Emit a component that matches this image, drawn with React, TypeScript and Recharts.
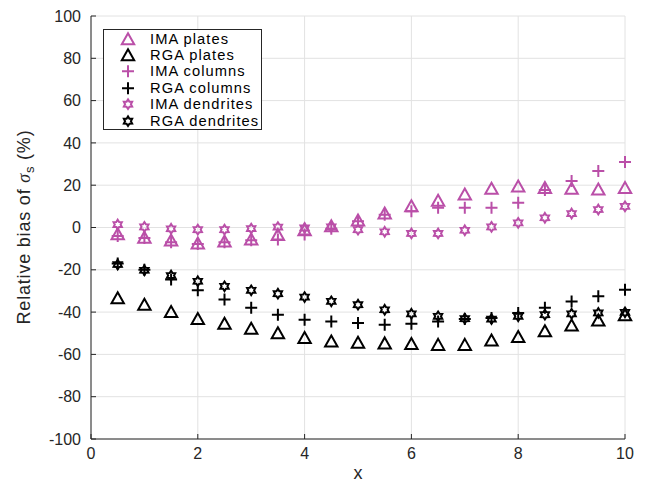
import React from 'react';
import { ScatterChart, Scatter, XAxis, YAxis, CartesianGrid, Legend } from 'recharts';

// sample positions along x
const xValues = [0.5, 1, 1.5, 2, 2.5, 3, 3.5, 4, 4.5, 5, 5.5, 6, 6.5, 7, 7.5, 8, 8.5, 9, 9.5, 10];

// relative bias (%) per habit and method
const imaPlates = [-3.2, -4.8, -6.2, -7.6, -6.6, -5.7, -3.5, -1.3, 0.6, 3.3, 6.6, 10, 12.6, 15.6, 18.3, 19.4, 18.7, 18.3, 18, 18.7];
const rgaPlates = [-33.5, -36.5, -40, -43.3, -45.5, -47.9, -50, -52.3, -53.9, -54.5, -54.8, -55.1, -55.5, -55.5, -53.4, -51.8, -49.1, -46.3, -44, -41.5];
const imaColumns = [-4, -5, -7, -7.8, -7, -6, -5.7, -3.3, -0.6, 3, 6, 7.7, 9.3, 9.3, 9.3, 11.7, 17.7, 22, 26.7, 31];
const rgaColumns = [-17, -20, -24.6, -29.7, -34, -38, -41.2, -43.6, -44.4, -45.2, -46, -45.5, -44.4, -43.3, -42.8, -40.4, -38, -35, -32.5, -29.4];
const imaDendrites = [1.4, 0.3, -0.6, -1, -1, -0.5, 0.2, -0.2, 0.3, -1, -2, -2.8, -2.8, -1.3, 0.3, 2.2, 4.6, 6.6, 8.5, 10];
const rgaDendrites = [-17.5, -20.2, -22.7, -25.4, -27.8, -29.7, -31.3, -32.9, -34.9, -36.5, -38.9, -40.8, -42, -43.1, -43.3, -42, -41.2, -40.8, -40.4, -40.1];

const seriesNames = ['IMA plates', 'RGA plates', 'IMA columns', 'RGA columns', 'IMA dendrites', 'RGA dendrites'];

const xTicks = [0, 2, 4, 6, 8, 10];
const yTicks = [-100, -80, -60, -40, -20, 0, 20, 40, 60, 80, 100];

const MAGENTA = '#BA4FA8';
const BLACK = '#000000';
const AXIS = '#262626';
const FONT = '"Liberation Sans", Arial, Helvetica, sans-serif';

type MarkProps = { cx?: number; cy?: number; color: string };

const Triangle = ({ cx = 0, cy = 0, color }: MarkProps) => (
  <path
    d={`M${cx},${cy - 6} L${cx + 6.2},${cy + 5} L${cx - 6.2},${cy + 5} Z`}
    fill="none"
    stroke={color}
    strokeWidth={2}
  />
);

const Plus = ({ cx = 0, cy = 0, color }: MarkProps) => (
  <path
    d={`M${cx - 6},${cy} H${cx + 6} M${cx},${cy - 6} V${cy + 6}`}
    fill="none"
    stroke={color}
    strokeWidth={2}
  />
);

// six-pointed star, drawn small so it reads like a gear
const Hexagram = ({ cx = 0, cy = 0, color }: MarkProps) => {
  const pts: string[] = [];
  for (let i = 0; i < 12; i++) {
    const r = i % 2 === 0 ? 4.8 : 2.9;
    const a = (Math.PI / 6) * i - Math.PI / 2;
    pts.push(`${(cx + r * Math.cos(a)).toFixed(2)},${(cy + r * Math.sin(a)).toFixed(2)}`);
  }
  return <polygon points={pts.join(' ')} fill="none" stroke={color} strokeWidth={2} />;
};

const marks = [Triangle, Triangle, Plus, Plus, Hexagram, Hexagram];
const colors = [MAGENTA, BLACK, MAGENTA, BLACK, MAGENTA, BLACK];
const seriesValues = [imaPlates, rgaPlates, imaColumns, rgaColumns, imaDendrites, rgaDendrites];

const toPoints = (ys: number[]) => xValues.map((x, i) => ({ x, y: ys[i] }));

const ROW = 16.45;

const LegendBox = () => (
  <div
    style={{
      boxSizing: 'border-box',
      width: 159,
      height: 101,
      border: `1px solid ${AXIS}`,
      background: '#fff',
      paddingTop: 0.5,
      fontFamily: FONT,
      fontSize: 14.7,
      letterSpacing: 1.05,
      color: '#000',
    }}
  >
    {seriesNames.map((name, i) => {
      const Mark = marks[i];
      return (
        <div key={name} style={{ position: 'relative', height: ROW, lineHeight: `${ROW}px` }}>
          <svg width={16} height={16} style={{ position: 'absolute', left: 16, top: 0 }}>
            <Mark cx={8} cy={8.2} color={colors[i]} />
          </svg>
          <span style={{ position: 'absolute', left: 46, top: 0, whiteSpace: 'nowrap' }}>{name}</span>
        </div>
      );
    })}
  </div>
);

const YTitle = ({ viewBox }: any) => {
  const x = viewBox.x + 13.5;
  const y = 219;
  return (
    <text
      x={x}
      y={y}
      transform={`rotate(-90, ${x}, ${y})`}
      textAnchor="middle"
      fill={AXIS}
      fontFamily={FONT}
      fontSize={18}
      letterSpacing={0.8}
    >
      Relative bias of{' '}
      <tspan fontStyle="italic" fontFamily='"Liberation Serif", "DejaVu Serif", serif'>σ</tspan>
      <tspan fontSize={13} dy={4}>s</tspan>
      <tspan dy={-4}> (%)</tspan>
    </text>
  );
};

const XTitle = ({ viewBox }: any) => (
  <text
    x={viewBox.x + viewBox.width / 2}
    y={viewBox.y + 40}
    textAnchor="middle"
    fill={AXIS}
    fontFamily={FONT}
    fontSize={18}
  >
    x
  </text>
);

const tickStyle = { fill: AXIS, fontSize: 16, fontFamily: FONT };

export default function App() {
  return (
    <ScatterChart width={630} height={475} margin={{ top: 8, right: 13, left: 8, bottom: 4 }}>
      <CartesianGrid stroke="#E2E2E2" />
      <XAxis
        dataKey="x"
        type="number"
        domain={[0, 10]}
        ticks={xTicks}
        interval={0}
        height={40}
        tickSize={-5}
        tickMargin={14}
        stroke={AXIS}
        tick={tickStyle}
        label={<XTitle />}
      />
      <XAxis
        xAxisId="top"
        orientation="top"
        type="number"
        domain={[0, 10]}
        ticks={xTicks}
        interval={0}
        height={0}
        tickSize={-5}
        stroke={AXIS}
        tickFormatter={() => ''}
      />
      <YAxis
        dataKey="y"
        type="number"
        domain={[-100, 100]}
        ticks={yTicks}
        interval={0}
        width={75}
        tickSize={-5}
        tickMargin={15}
        stroke={AXIS}
        tick={tickStyle}
        label={<YTitle />}
      />
      <YAxis
        yAxisId="right"
        orientation="right"
        type="number"
        domain={[-100, 100]}
        ticks={yTicks}
        interval={0}
        width={0}
        tickSize={-5}
        stroke={AXIS}
        tickFormatter={() => ''}
      />
      <Legend
        layout="horizontal"
        verticalAlign="middle"
        align="center"
        content={<LegendBox />}
        wrapperStyle={{ left: 95, top: 21, width: 159, height: 101 }}
      />
      {seriesValues.map((ys, i) => {
        const Mark = marks[i];
        return (
          <Scatter
            key={seriesNames[i]}
            name={seriesNames[i]}
            data={toPoints(ys)}
            isAnimationActive={false}
            shape={(p: any) => <Mark cx={p.cx} cy={p.cy} color={colors[i]} />}
          />
        );
      })}
    </ScatterChart>
  );
}
